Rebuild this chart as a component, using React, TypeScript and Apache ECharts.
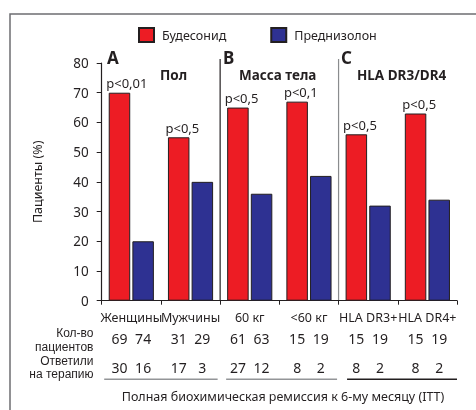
import React, { useEffect, useRef } from 'react';
import * as echarts from 'echarts';

const categories = ['Женщины', 'Мужчины', '60 кг', '<60 кг', 'HLA DR3+', 'HLA DR4+'];
const budesonide = [70, 55, 65, 67, 56, 63];
const prednisolone = [20, 40, 36, 42, 32, 34];
const pValues = ['p<0,01', 'p<0,5', 'p<0,5', 'p<0,1', 'p<0,5', 'p<0,5'];
const patientsBud = [69, 31, 61, 15, 15, 15];
const patientsPred = [74, 29, 63, 19, 19, 19];
const respondedBud = [30, 17, 27, 8, 8, 8];
const respondedPred = [16, 3, 12, 2, 2, 2];
const groupLetters = ['A', 'B', 'C'];
const groupTitles = ['Пол', 'Масса тела', 'HLA DR3/DR4'];
const seriesNames = ['Будесонид', 'Преднизолон'];
const rowLabels = [['Кол-во', 'пациентов'], ['Ответили', 'на терапию']];
const yMin = 0;
const yMax = 80;
const yInterval = 10;

const FONT = 'Noto Sans';
const FONT2 = 'Liberation Sans';
const TEXT = '#231f20';
const RED = '#ed1c24';
const BLUE = '#2e3192';

export default function App() {
  const ref = useRef<HTMLDivElement>(null);
  useEffect(() => {
    const chart = echarts.init(ref.current!, null, { renderer: 'svg' });
    const barWidth = 21.5;
    const barGapPct = 10;
    chart.setOption({
      animation: false,
      textStyle: { fontFamily: FONT, color: TEXT },
      legend: {
        data: seriesNames,
        left: 138,
        top: 27,
        padding: 0,
        itemWidth: 15,
        itemHeight: 14,
        itemGap: 44,
        icon: 'rect',
        textStyle: { fontFamily: FONT, fontSize: 12.5, color: TEXT, padding: [0, 0, 0, 3] },
      },
      grid: { left: 101.7, right: 19, top: 63, bottom: 109.3 },
      xAxis: {
        type: 'category',
        data: categories,
        axisLine: { lineStyle: { color: TEXT, width: 1.2 } },
        axisTick: { show: true, length: 4, lineStyle: { color: TEXT } },
        axisLabel: { interval: 0, fontSize: 12.5, margin: 10, color: TEXT, fontFamily: FONT },
      },
      yAxis: {
        type: 'value',
        min: yMin,
        max: yMax,
        interval: yInterval,
        name: 'Пациенты (%)',
        nameLocation: 'middle',
        nameGap: 58,
        nameTextStyle: { fontSize: 12.5, color: TEXT, fontFamily: FONT },
        axisLine: { show: true, lineStyle: { color: TEXT, width: 1.2 } },
        axisTick: { show: true, length: 5, lineStyle: { color: TEXT } },
        axisLabel: { fontSize: 13.5, margin: 13, color: TEXT, fontFamily: FONT },
        splitLine: { show: false },
      },
      series: [
        {
          name: seriesNames[0],
          type: 'bar',
          data: budesonide,
          barWidth,
          barGap: barGapPct + '%',
          itemStyle: { color: RED, borderColor: TEXT, borderWidth: 1 },
          label: {
            show: true,
            position: [-2.5, -3],
            align: 'left',
            verticalAlign: 'bottom',
            fontSize: 13,
            color: TEXT,
            fontFamily: FONT,
            formatter: (p: any) => pValues[p.dataIndex],
          },
        },
        {
          name: seriesNames[1],
          type: 'bar',
          data: prednisolone,
          barWidth,
          barGap: barGapPct + '%',
          itemStyle: { color: BLUE, borderColor: TEXT, borderWidth: 1 },
        },
      ],
    });

    const cx = (i: number) => chart.convertToPixel({ xAxisIndex: 0 }, i) as number;
    const catW = cx(1) - cx(0);
    const bound = (i: number) => cx(0) - catW / 2 + i * catW;
    const half = (barWidth + (barWidth * barGapPct) / 100) / 2;
    const axisY = chart.convertToPixel({ yAxisIndex: 0 }, 0) as number;

    const g: any[] = [];
    g.push({
      type: 'rect',
      shape: { x: 10, y: 14, width: 490, height: 420 },
      style: { fill: 'none', stroke: '#6d6e71', lineWidth: 1.5 },
      silent: true,
    });
    const sepColors = [TEXT, '#8a8c8e'];
    [2, 4].forEach((b, k) => {
      g.push({
        type: 'line',
        shape: { x1: bound(b), y1: 59, x2: bound(b), y2: axisY },
        style: { stroke: sepColors[k], lineWidth: 1.2 },
      });
    });
    const letterX = [107, 223, 341];
    const titleX = [160, 239, 357];
    groupLetters.forEach((l, k) => {
      g.push({
        type: 'text',
        x: letterX[k],
        y: 57,
        style: { text: l, font: `bold 17px "${FONT}"`, fill: TEXT, verticalAlign: 'middle', align: 'left' },
      });
      g.push({
        type: 'text',
        x: titleX[k],
        y: 74.5,
        style: { text: groupTitles[k], font: `bold 13.5px "${FONT}"`, fill: TEXT, verticalAlign: 'middle', align: 'left' },
      });
    });
    const rows = [
      { a: patientsBud, b: patientsPred, y: 338.5 },
      { a: respondedBud, b: respondedPred, y: 367.5 },
    ];
    rows.forEach((r) => {
      categories.forEach((_, i) => {
        g.push({
          type: 'text',
          x: cx(i) - half,
          y: r.y,
          style: { text: String(r.a[i]), font: `14px "${FONT}"`, fill: TEXT, align: 'center', verticalAlign: 'middle' },
        });
        g.push({
          type: 'text',
          x: cx(i) + half,
          y: r.y,
          style: { text: String(r.b[i]), font: `14px "${FONT}"`, fill: TEXT, align: 'center', verticalAlign: 'middle' },
        });
      });
    });
    const rowLabelY = [[333.3, 346.7], [361, 374.4]];
    rowLabels.forEach((lines, k) => {
      lines.forEach((t, j) => {
        g.push({
          type: 'text',
          x: 93.5,
          y: rowLabelY[k][j],
          style: { text: t, font: `12px "${FONT2}"`, fill: TEXT, align: 'right', verticalAlign: 'middle' },
        });
      });
    });
    const leftIn = [2.5, 6, 8.5];
    const rightIn = [2.5, 1.5, 0];
    const ulColors = ['#939598', '#939598', TEXT];
    [0, 1, 2].forEach((k) => {
      g.push({
        type: 'line',
        shape: { x1: bound(2 * k) + leftIn[k], y1: 379.3, x2: bound(2 * k + 2) - rightIn[k], y2: 379.3 },
        style: { stroke: ulColors[k], lineWidth: 1.5 },
      });
    });
    g.push({
      type: 'text',
      x: 283,
      y: 396.7,
      style: { text: 'Полная биохимическая ремиссия к 6-му месяцу (ITT)', font: `12.5px "${FONT}"`, fill: TEXT, align: 'center', verticalAlign: 'middle' },
    });
    chart.setOption({ graphic: g });
    return () => chart.dispose();
  }, []);
  return <div ref={ref} style={{ position: 'fixed', left: 0, top: 0, width: 476, height: 410 }} />;
}
